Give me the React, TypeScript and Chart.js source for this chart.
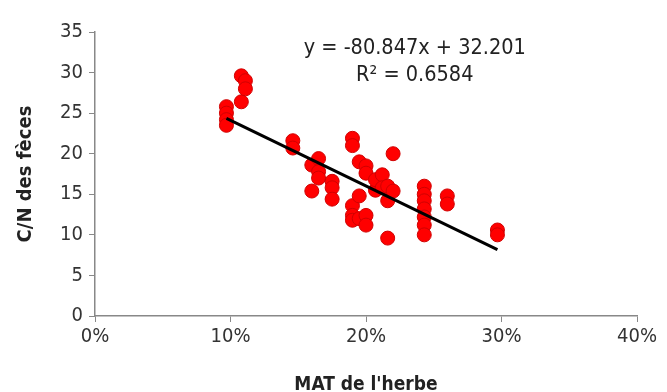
import React, { useEffect, useRef } from "react";
import { Chart, registerables } from "chart.js";

Chart.register(...registerables);

const matValues = [
  0.097, 0.097, 0.097, 0.097,
  0.108, 0.108, 0.111, 0.111,
  0.146, 0.146,
  0.160, 0.160, 0.165, 0.165, 0.165,
  0.175, 0.175, 0.175,
  0.190, 0.190, 0.190, 0.190, 0.190,
  0.195, 0.195, 0.195,
  0.200, 0.200, 0.200, 0.200,
  0.207, 0.207, 0.212, 0.212,
  0.216, 0.216, 0.216,
  0.220, 0.220,
  0.243, 0.243, 0.243, 0.243, 0.243, 0.243, 0.243,
  0.260, 0.260,
  0.297, 0.297,
];
const cnValues = [
  25.8, 25.0, 24.2, 23.5,
  29.6, 26.4, 29.0, 28.0,
  21.6, 20.7,
  18.6, 15.4, 19.4, 17.8, 17.0,
  16.6, 15.8, 14.4,
  21.9, 21.0, 13.6, 12.4, 11.8,
  19.0, 14.8, 12.0,
  18.5, 17.6, 12.4, 11.2,
  15.5, 16.8, 17.4, 15.8,
  16.0, 14.2, 9.6,
  20.0, 15.4,
  16.0, 15.0, 14.2, 13.2, 12.2, 11.2, 10.0,
  14.8, 13.8,
  10.6, 10.0,
];
const slope = -80.847;
const intercept = 32.201;
const trendRange = [0.097, 0.297];
const equationLines = ["y = -80.847x + 32.201", "R² = 0.6584"];
const xTitle = "MAT de l'herbe";
const yTitle = "C/N des fèces";

export default function App() {
  const ref = useRef<HTMLCanvasElement>(null);
  useEffect(() => {
    document.body.style.margin = "0";
    const font = "'DejaVu Sans Condensed', 'Liberation Sans Narrow', 'Liberation Sans', Arial, sans-serif";
    const textPlugin = {
      id: "eqText",
      afterDraw(chart: any) {
        const { ctx, scales } = chart;
        ctx.save();
        ctx.fillStyle = "#222";
        ctx.font = `21.5px ${font}`;
        ctx.textAlign = "center";
        ctx.textBaseline = "middle";
        const cx = scales.x.getPixelForValue(0.236);
        ctx.fillText(equationLines[0], cx, scales.y.getPixelForValue(33.0));
        ctx.fillText(equationLines[1], cx, scales.y.getPixelForValue(29.7));
        ctx.restore();
      },
    };
    const chart = new Chart(ref.current!, {
      type: "scatter",
      data: {
        datasets: [
          {
            type: "line",
            data: trendRange.map((x) => ({ x, y: slope * x + intercept })),
            borderColor: "#000",
            borderWidth: 3,
            pointRadius: 0,
            fill: false,
          } as any,
          {
            data: matValues.map((x, i) => ({ x, y: cnValues[i] })),
            backgroundColor: "#ff0000",
            borderColor: "#d00000",
            borderWidth: 1,
            pointRadius: 7,
          },
        ],
      },
      options: {
        animation: false,
        responsive: false,
        maintainAspectRatio: false,
        layout: { padding: { top: 32, right: 30, left: 14, bottom: 0 } },
        plugins: { legend: { display: false }, tooltip: { enabled: false } },
        scales: {
          x: {
            type: "linear",
            min: 0,
            max: 0.4,
            afterFit: (s: any) => { s.height = 76; },
            ticks: {
              stepSize: 0.1,
              color: "#333",
              font: { family: font, size: 20 },
              padding: 3,
              callback: (v: any) => Math.round(Number(v) * 100) + "%",
            },
            grid: { display: true, drawOnChartArea: false, drawTicks: true, tickLength: 6, color: "#888" },
            border: { color: "#888", width: 1.5 },
            title: { display: true, text: xTitle, color: "#222", font: { family: font, size: 19, weight: "bold" }, padding: { top: 8, bottom: -4 } },
          },
          y: {
            min: 0,
            max: 35,
            afterFit: (s: any) => { s.width = 81; },
            ticks: { stepSize: 5, color: "#333", font: { family: font, size: 20 }, padding: 6 },
            grid: { display: true, drawOnChartArea: false, drawTicks: true, tickLength: 6, color: "#888" },
            border: { color: "#888", width: 1.5 },
            title: { display: true, text: yTitle, color: "#222", font: { family: font, size: 20, weight: "bold" }, padding: { top: 0, bottom: 4 } },
          },
        },
      },
      plugins: [textPlugin],
    });
    return () => chart.destroy();
  }, []);
  return (
    <div style={{ width: 667, height: 392 }}>
      <canvas ref={ref} width={667} height={392} />
    </div>
  );
}
